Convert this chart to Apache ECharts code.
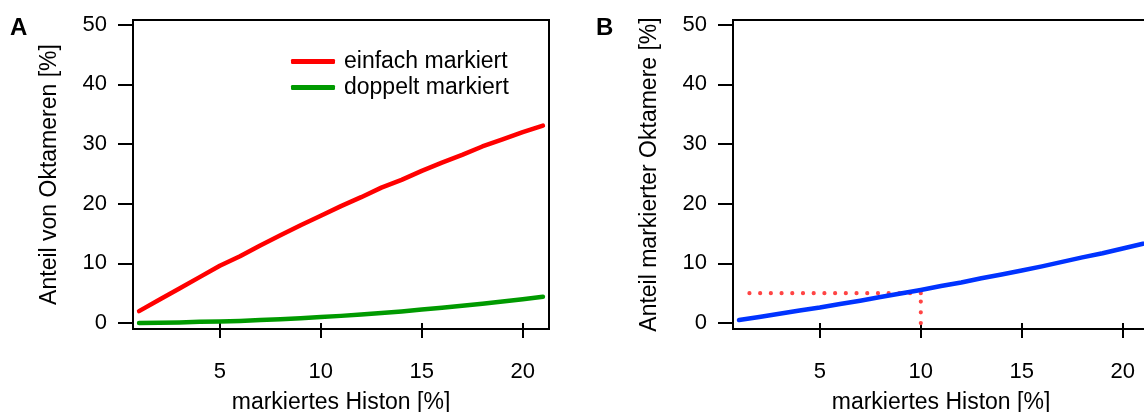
<!DOCTYPE html>
<html>
<head>
<meta charset="utf-8">
<script src="https://cdn.jsdelivr.net/npm/echarts@6/dist/echarts.min.js"></script>
<style>
  html, body { margin: 0; padding: 0; background: #fff; }
  #chart { width: 1144px; height: 412px; }
</style>
</head>
<body>
<div id="chart"></div>
<script>
// Anteil markierter Histone (x, in %)
const histonPercent = [1, 2, 3, 4, 5, 6, 7, 8, 9, 10, 11, 12, 13, 14, 15, 16, 17, 18, 19, 20, 21];

// Panel A: Anteil von Oktameren [%]
const einfachMarkiert = [2.0, 3.9, 5.8, 7.7, 9.6, 11.2, 13.0, 14.7, 16.4, 18.0, 19.6, 21.1, 22.7, 24.0, 25.5, 26.9, 28.2, 29.6, 30.8, 32.0, 33.1];
const doppeltMarkiert = [0.0, 0.05, 0.1, 0.2, 0.25, 0.35, 0.5, 0.65, 0.8, 1.0, 1.2, 1.45, 1.7, 1.95, 2.25, 2.55, 2.9, 3.25, 3.6, 4.0, 4.4];

// Panel B: Anteil markierter Oktamere [%]
const markierteOktamere = [0.5, 1.0, 1.55, 2.1, 2.6, 3.2, 3.75, 4.35, 4.95, 5.55, 6.2, 6.8, 7.5, 8.15, 8.8, 9.5, 10.25, 11.0, 11.7, 12.5, 13.3];

// Hilfslinie bei 10 % markiertem Histon -> 5 % markierte Oktamere
const guideX = 10;
const guideY = 5;
const guideStartX = 1.3;

// Achsenbeschriftung
const xTicks = [5, 10, 15, 20];
const yTicks = [0, 10, 20, 30, 40, 50];

const FONT = '"Liberation Sans", Arial, Helvetica, sans-serif';

const pairs = (xs, ys) => xs.map((x, i) => [x, ys[i]]);

function xAxisDef(gridIndex) {
  return {
    type: 'value', gridIndex,
    min: 0.7, max: 21.3,
    name: 'markiertes Histon [%]',
    nameLocation: 'middle', nameGap: 62,
    nameTextStyle: { fontSize: 23, color: '#000', fontFamily: FONT },
    axisLine: { show: false },
    axisTick: { show: true, length: 15, lineStyle: { color: '#000', width: 2 }, customValues: xTicks },
    axisLabel: { customValues: xTicks, margin: 32, fontSize: 22, color: '#000', fontFamily: FONT },
    splitLine: { show: false }
  };
}

function yAxisDef(gridIndex, title) {
  return {
    type: 'value', gridIndex,
    min: -1, max: 50.8,
    name: title,
    nameLocation: 'middle', nameGap: 72,
    nameTextStyle: { fontSize: 23, color: '#000', fontFamily: FONT },
    axisLine: { show: false },
    axisTick: { show: true, length: 15, lineStyle: { color: '#000', width: 2 }, customValues: yTicks },
    axisLabel: { customValues: yTicks, margin: 26, fontSize: 22, color: '#000', fontFamily: FONT },
    splitLine: { show: false }
  };
}

const lineSeries = (name, data, color, idx) => ({
  name, type: 'line', xAxisIndex: idx, yAxisIndex: idx,
  data, showSymbol: false, symbol: 'none', silent: true, animation: false,
  lineStyle: { color, width: 4.5, cap: 'round', join: 'round' },
  itemStyle: { color }
});

const guideStyle = { color: '#ff4444', width: 4.2, type: [0.01, 10.7], cap: 'round' };

const gridBase = {
  top: 20, width: 416, height: 309,
  show: true, borderColor: '#000', borderWidth: 2, backgroundColor: 'transparent',
  containLabel: false, outerBoundsMode: 'none'
};

const chart = echarts.init(document.getElementById('chart'), null, { renderer: 'canvas' });
chart.setOption({
  backgroundColor: '#fff',
  animation: false,
  textStyle: { fontFamily: FONT },
  grid: [
    Object.assign({ left: 133 }, gridBase),
    Object.assign({ left: 733 }, gridBase)
  ],
  xAxis: [xAxisDef(0), xAxisDef(1)],
  yAxis: [yAxisDef(0, 'Anteil von Oktameren [%]'), yAxisDef(1, 'Anteil markierter Oktamere [%]')],
  legend: {
    data: ['einfach markiert', 'doppelt markiert'],
    orient: 'vertical', left: 291, top: 50, padding: 0,
    itemWidth: 44, itemHeight: 5, itemGap: 3,
    icon: 'roundRect',
    selectedMode: false,
    textStyle: { fontSize: 23, color: '#000', fontFamily: FONT, lineHeight: 23, padding: [0, 0, 0, 4] }
  },
  graphic: [
    { type: 'text', left: 10, top: 16, style: { text: 'A', fontSize: 24, fontWeight: 'bold', fill: '#000', fontFamily: FONT } },
    { type: 'text', left: 596, top: 16, style: { text: 'B', fontSize: 24, fontWeight: 'bold', fill: '#000', fontFamily: FONT } }
  ],
  series: [
    lineSeries('einfach markiert', pairs(histonPercent, einfachMarkiert), '#ff0000', 0),
    lineSeries('doppelt markiert', pairs(histonPercent, doppeltMarkiert), '#009a00', 0),
    {
      name: 'guideH', type: 'line', xAxisIndex: 1, yAxisIndex: 1, silent: true, symbol: 'none',
      data: [[guideX, guideY], [guideStartX, guideY]], lineStyle: guideStyle, z: 1
    },
    {
      name: 'guideV', type: 'line', xAxisIndex: 1, yAxisIndex: 1, silent: true, symbol: 'none',
      data: [[guideX, 0], [guideX, guideY]], lineStyle: guideStyle, z: 1
    },
    lineSeries('markierte Oktamere', pairs(histonPercent, markierteOktamere), '#0033ff', 1)
  ]
});
</script>
</body>
</html>
